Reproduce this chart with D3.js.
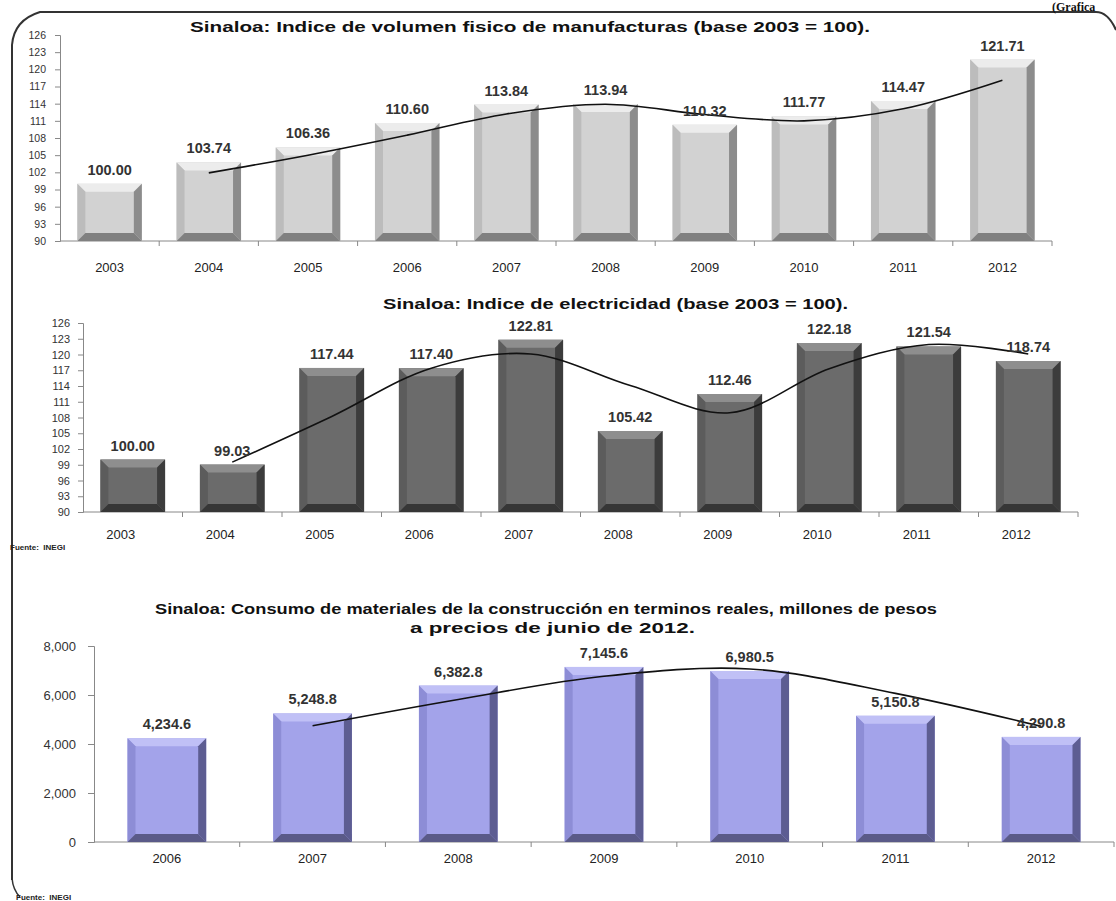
<!DOCTYPE html>
<html>
<head>
<meta charset="utf-8">
<script src="https://cdn.jsdelivr.net/npm/d3@7"></script>
<style>
  body { margin: 0; background: #fff; }
  svg { display: block; }
  .tick text { fill: #333; }
</style>
</head>
<body>
<div id="viz"></div>
<script>
// --- data ---
const yearsA = ["2003","2004","2005","2006","2007","2008","2009","2010","2011","2012"];
const manufValues = [100.00, 103.74, 106.36, 110.60, 113.84, 113.94, 110.32, 111.77, 114.47, 121.71];
const manufTrend = [null, 101.9, 105.0, 108.5, 112.2, 113.9, 112.1, 111.0, 113.1, 118.1];

const elecValues = [100.00, 99.03, 117.44, 117.40, 122.81, 105.42, 112.46, 122.18, 121.54, 118.74];
const elecTrend = [null, 99.5, 108.2, 117.4, 120.1, 114.1, 108.9, 117.3, 121.9, 120.1];

const yearsB = ["2006","2007","2008","2009","2010","2011","2012"];
const constrValues = [4234.6, 5248.8, 6382.8, 7145.6, 6980.5, 5150.8, 4290.8];
const constrTrend = [null, 4742, 5816, 6764, 7063, 6066, 4721];

const indexTicks = [90, 93, 96, 99, 102, 105, 108, 111, 114, 117, 120, 123, 126];
const constrTicks = [0, 2000, 4000, 6000, 8000];

const W = 1116, H = 901;
const svg = d3.select("#viz").append("svg")
    .attr("width", W)
    .attr("height", H);

const font = "Arial, 'Liberation Sans', sans-serif";

// frame with curled corners
svg.append("path")
    .attr("d", "M12,880 L12,45 Q14,20 40,12 L1096,12 Q1108,12 1116,30")
    .attr("fill", "none")
    .attr("stroke", "#333")
    .attr("stroke-width", 2);
svg.append("path")
    .attr("d", "M12,878 Q13,890 20,897")
    .attr("fill", "none")
    .attr("stroke", "#333")
    .attr("stroke-width", 1.5);

svg.append("text")
    .attr("x", 1052)
    .attr("y", 11)
    .attr("font-family", "'Liberation Serif', 'Times New Roman', serif")
    .attr("font-weight", "bold")
    .attr("font-size", 12)
    .attr("fill", "#111")
    .text("(Grafica");

// bevelled bar, like the Excel "bevel" effect
function bevelBar(g, x, y, w, h, c) {
    const b = Math.min(8, h / 2, w / 2);
    const x2 = x + w, y2 = y + h;
    g.append("rect").attr("x", x).attr("y", y).attr("width", w).attr("height", h).attr("fill", c.face);
    g.append("polygon").attr("points", [[x, y], [x2, y], [x2 - b, y + b], [x + b, y + b]].join(" ")).attr("fill", c.top);
    g.append("polygon").attr("points", [[x, y], [x + b, y + b], [x + b, y2 - b], [x, y2]].join(" ")).attr("fill", c.left);
    g.append("polygon").attr("points", [[x2, y], [x2, y2], [x2 - b, y2 - b], [x2 - b, y + b]].join(" ")).attr("fill", c.right);
    g.append("polygon").attr("points", [[x, y2], [x + b, y2 - b], [x2 - b, y2 - b], [x2, y2]].join(" ")).attr("fill", c.bottom);
}

function drawChart(opt) {
    const g = svg.append("g");

    const x = d3.scaleBand()
        .domain(opt.years)
        .range(opt.xRange)
        .paddingInner(opt.padding)
        .paddingOuter(opt.padding / 2);

    const y = d3.scaleLinear()
        .domain(opt.yDomain)
        .range(opt.yRange);

    // y axis
    const yAxis = g.append("g")
        .attr("transform", `translate(${opt.xRange[0]},0)`)
        .call(d3.axisLeft(y).tickValues(opt.yTicks).tickSize(opt.tickSize).tickPadding(opt.tickPad).tickFormat(opt.yFormat));
    yAxis.selectAll("text").attr("font-family", font).attr("font-size", opt.yFont);
    yAxis.selectAll("line, path").attr("stroke", "#888");

    // x axis, ticks between categories
    const xAxis = g.append("g")
        .attr("transform", `translate(0,${opt.yRange[0]})`);
    xAxis.append("line")
        .attr("x1", opt.xRange[0]).attr("x2", opt.xRange[1])
        .attr("stroke", "#888");
    xAxis.selectAll(".sep")
        .data(opt.years)
        .join("line")
            .attr("class", "sep")
            .attr("x1", d => x(d) - x.step() * opt.padding / 2 + x.step())
            .attr("x2", d => x(d) - x.step() * opt.padding / 2 + x.step())
            .attr("y1", 0).attr("y2", 5)
            .attr("stroke", "#888");
    xAxis.selectAll(".yr")
        .data(opt.years)
        .join("text")
            .attr("class", "yr")
            .attr("x", d => x(d) + x.bandwidth() / 2 + opt.labelDx)
            .attr("y", opt.yearDy)
            .attr("text-anchor", "middle")
            .attr("font-family", font)
            .attr("font-size", 13)
            .attr("fill", "#222")
            .text(d => d);

    // bars
    const bars = g.append("g");
    opt.values.forEach((v, i) => {
        const yr = opt.years[i];
        bevelBar(bars, x(yr), y(v), x.bandwidth(), y(opt.yDomain[0]) - y(v), opt.colors);
    });

    // trend line
    const pts = opt.trend.map((v, i) => [opt.years[i], v]).filter(d => d[1] !== null);
    g.append("path")
        .datum(pts)
        .attr("fill", "none")
        .attr("stroke", "#111")
        .attr("stroke-width", 1.6)
        .attr("d", d3.line()
            .x(d => x(d[0]) + x.bandwidth() / 2)
            .y(d => y(d[1]))
            .curve(d3.curveCatmullRom.alpha(0.5)));

    // data labels
    g.selectAll(".val")
        .data(opt.values)
        .join("text")
            .attr("class", "val")
            .attr("x", (d, i) => x(opt.years[i]) + x.bandwidth() / 2)
            .attr("y", d => y(d) - 9)
            .attr("text-anchor", "middle")
            .attr("font-family", font)
            .attr("font-weight", "bold")
            .attr("font-size", 14.5)
            .attr("fill", "#333")
            .text(opt.valFormat);

    // title, stretched to the width seen in the reference
    opt.title.forEach(t => {
        g.append("text")
            .attr("x", t.x)
            .attr("y", t.y)
            .attr("textLength", t.len)
            .attr("lengthAdjust", "spacingAndGlyphs")
            .attr("font-family", font)
            .attr("font-weight", "bold")
            .attr("font-size", 15)
            .attr("fill", "#111")
            .text(t.text);
    });
}

drawChart({
    years: yearsA,
    values: manufValues,
    trend: manufTrend,
    xRange: [60, 1052],
    yRange: [241, 35],
    yDomain: [90, 126],
    yTicks: indexTicks,
    yFont: 10.5,
    tickSize: 5,
    tickPad: 9,
    yFormat: d => d,
    padding: 0.35,
    labelDx: 0,
    yearDy: 31,
    valFormat: d => d3.format(".2f")(d),
    colors: { face: "#d2d2d2", top: "#ececec", left: "#bcbcbc", right: "#8c8c8c", bottom: "#808080" },
    title: [{ x: 190, y: 32, len: 680, text: "Sinaloa: Indice de volumen fisico de manufacturas (base 2003  = 100)." }]
});

drawChart({
    years: yearsA,
    values: elecValues,
    trend: elecTrend,
    xRange: [83, 1078],
    yRange: [512, 323],
    yDomain: [90, 126],
    yTicks: indexTicks,
    yFont: 11,
    tickSize: 5,
    tickPad: 8,
    yFormat: d => d,
    padding: 0.35,
    labelDx: -12,
    yearDy: 27,
    valFormat: d => d3.format(".2f")(d),
    colors: { face: "#6b6b6b", top: "#8e8e8e", left: "#5c5c5c", right: "#3c3c3c", bottom: "#363636" },
    title: [{ x: 383, y: 309, len: 465, text: "Sinaloa: Indice de electricidad (base 2003 = 100)." }]
});

drawChart({
    years: yearsB,
    values: constrValues,
    trend: constrTrend,
    xRange: [94, 1114],
    yRange: [842, 646],
    yDomain: [0, 8000],
    yTicks: constrTicks,
    yFont: 13,
    tickSize: 6,
    tickPad: 12,
    yFormat: d3.format(","),
    padding: 0.46,
    labelDx: 0,
    yearDy: 21,
    valFormat: d => d3.format(",.1f")(d),
    colors: { face: "#a3a3ea", top: "#c0c0f6", left: "#8d8dd6", right: "#5d5d92", bottom: "#5a5a88" },
    title: [
        { x: 155, y: 614, len: 782, text: "Sinaloa: Consumo de materiales de la construcción en terminos reales, millones de pesos" },
        { x: 410, y: 633, len: 285, text: "a precios de junio de 2012." }
    ]
});

// source notes
[[10, 550], [16, 900]].forEach(p => {
    svg.append("text")
        .attr("x", p[0])
        .attr("y", p[1])
        .attr("font-family", font)
        .attr("font-weight", "bold")
        .attr("font-size", 8)
        .attr("fill", "#222")
        .attr("xml:space", "preserve")
        .text("Fuente:  INEGI");
});
</script>
</body>
</html>
